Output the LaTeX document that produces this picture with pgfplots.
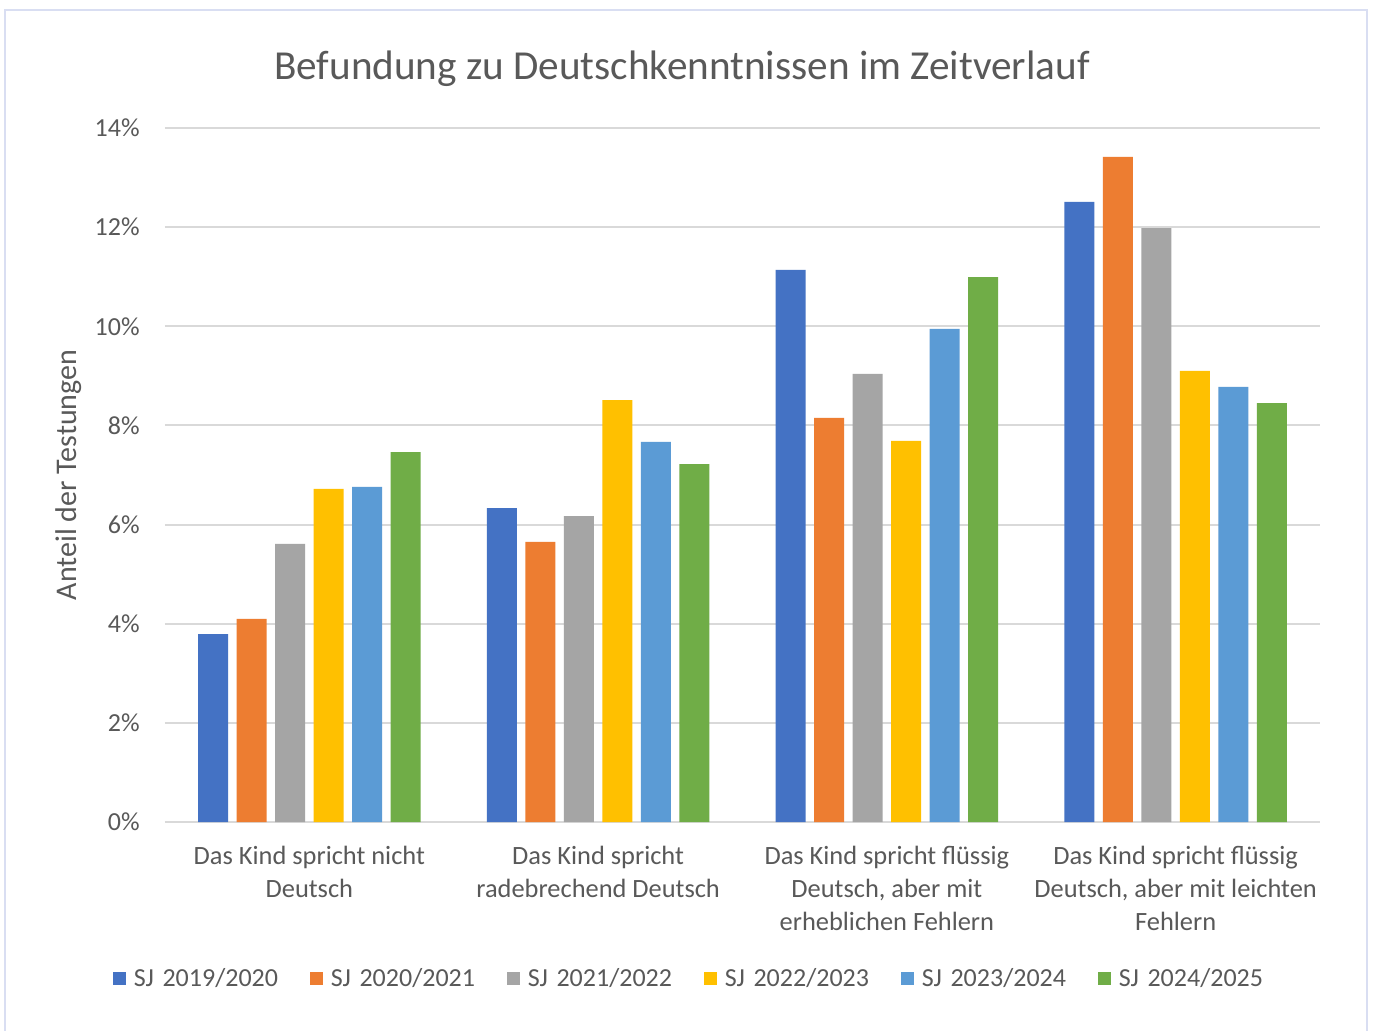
\documentclass[border=0pt]{standalone}
\usepackage{fontspec}
\setmainfont{Carlito}
\usepackage{pgfplots}
\pgfplotsset{compat=1.18}
\definecolor{c1}{HTML}{4472C4}
\definecolor{c2}{HTML}{ED7D31}
\definecolor{c3}{HTML}{A5A5A5}
\definecolor{c4}{HTML}{FFC000}
\definecolor{c5}{HTML}{5B9BD5}
\definecolor{c6}{HTML}{70AD47}
\definecolor{txt}{HTML}{595959}
\definecolor{grd}{HTML}{D9D9D9}
\definecolor{frm}{HTML}{D9DEF2}
\begin{document}
\begin{tikzpicture}[x=1pt,y=1pt]
\useasboundingbox (0,0) rectangle (686.5,515);
\fill[white] (0,0) rectangle (686.5,515);
\draw[frm, line width=1.25pt] (2.5,-5) -- (2.5,510) -- (683.5,510) -- (683.5,-5);
\node[txt, font=\fontsize{20.6}{24}\selectfont] at (341,480.5) {Befundung zu Deutschkenntnissen im Zeitverlauf};
\begin{axis}[
  at={(82.5pt,104pt)}, anchor=south west,
  scale only axis, width=577.5pt, height=347pt,
  xmin=-0.5, xmax=3.5, ymin=0, ymax=14,
  ytick={0,2,...,14},
  xtick={0,1,2,3},
  xticklabels={{Das Kind spricht nicht\\Deutsch},{Das Kind spricht\\radebrechend Deutsch},{Das Kind spricht flüssig\\Deutsch, aber mit\\erheblichen Fehlern},{Das Kind spricht flüssig\\Deutsch, aber mit leichten\\Fehlern}},
  xticklabel style={align=center, font=\fontsize{13.2}{16.5}\selectfont, text=txt, inner sep=0pt, yshift=-12pt},
  yticklabel={\pgfmathprintnumber{\tick}\%},
  yticklabel style={font=\fontsize{13}{15}\selectfont, text=txt, inner sep=0pt, xshift=-12.5pt},
  /pgf/number format/assume math mode=true,
  ybar=4.25pt, bar width=15pt,
  ymajorgrids, grid style={grd, line width=1pt},
  axis line style={draw=none},
  major tick length=0pt,
  ylabel={Anteil der Testungen},
  ylabel style={at={(axis description cs:-0.083,0.5)}, anchor=center, font=\fontsize{15}{18}\selectfont, text=txt},
  legend columns=6,
  legend style={at={(0.4665,-0.226)}, anchor=center, draw=none, fill=none, inner sep=0pt,
    font=\fontsize{13}{15}\selectfont, text=txt,
    nodes={inner sep=0pt, text width=88pt, align=left},
    /tikz/every odd column/.append style={column sep=4pt}},
  legend image code/.code={\fill[#1] (0pt,-3.25pt) rectangle (6.5pt,3.25pt);},
]
\addplot[fill=c1, draw=none] coordinates {(0,3.79) (1,6.33) (2,11.14) (3,12.51)};
\addplot[fill=c2, draw=none] coordinates {(0,4.10) (1,5.65) (2,8.15) (3,13.42)};
\addplot[fill=c3, draw=none] coordinates {(0,5.61) (1,6.17) (2,9.04) (3,11.98)};
\addplot[fill=c4, draw=none] coordinates {(0,6.72) (1,8.51) (2,7.69) (3,9.10)};
\addplot[fill=c5, draw=none] coordinates {(0,6.76) (1,7.67) (2,9.95) (3,8.78)};
\addplot[fill=c6, draw=none] coordinates {(0,7.46) (1,7.22) (2,10.99) (3,8.45)};
\legend{SJ 2019/2020, SJ 2020/2021, SJ 2021/2022, SJ 2022/2023, SJ 2023/2024, SJ 2024/2025}
\end{axis}
\end{tikzpicture}
\end{document}
